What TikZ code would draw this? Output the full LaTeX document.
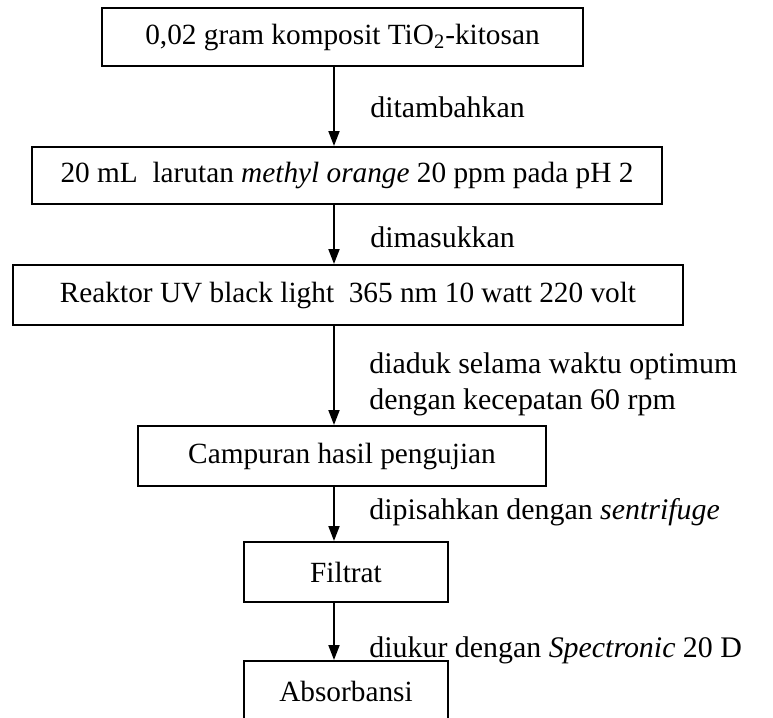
\documentclass[tikz,border=0pt]{standalone}
\usepackage{fontspec}
\setmainfont{Liberation Serif}
\usetikzlibrary{arrows.meta}
\begin{document}
\begin{tikzpicture}[x=0.5pt,y=-0.5pt,
  box/.style={draw, line width=1pt, inner sep=0pt, font=\fontsize{14.65}{17}\selectfont, anchor=center},
  lbl/.style={anchor=base west, inner sep=0pt, font=\fontsize{14.95}{18}\selectfont},
  lbltwo/.style={anchor=west, inner sep=0pt, font=\fontsize{14.95}{18}\selectfont, align=left},
  flow/.style={line width=1pt, -{Triangle[length=7.5pt,width=5.5pt]}}]
\useasboundingbox[fill=white] (0,0) rectangle (773,718);
\node[box, minimum width=240.5pt, minimum height=29pt] (b1) at (342.5,37) {0,02 gram komposit TiO\textsubscript{2}-kitosan};
\node[box, minimum width=315pt, minimum height=28.5pt] (b2) at (347,175.5) {20 mL\ \ larutan \textit{methyl orange} 20 ppm pada pH 2};
\node[box, minimum width=335pt, minimum height=30pt] (b3) at (348,295) {Reaktor UV black light\ \ 365 nm 10 watt 220 volt};
\node[box, minimum width=204pt, minimum height=30pt] (b4) at (342,456) {Campuran hasil pengujian};
\node[box, minimum width=102pt, minimum height=30pt] (b5) at (346,572) {Filtrat};
\node[box, minimum width=102pt, minimum height=30pt] (b6) at (346,691) {Absorbansi};
\coordinate (ax) at (334,0);
\draw[flow] (b1.south -| ax) -- (b2.north -| ax);
\draw[flow] (b2.south -| ax) -- (b3.north -| ax);
\draw[flow] (b3.south -| ax) -- (b4.north -| ax);
\draw[flow] (b4.south -| ax) -- (b5.north -| ax);
\draw[flow] (b5.south -| ax) -- (b6.north -| ax);
\node[lbl] (l1) at (370,117) {ditambahkan};
\node[lbl] (l2) at (370,247) {dimasukkan};
\node[lbltwo] (l3) at (369,384.5) {diaduk selama waktu optimum\\dengan kecepatan 60 rpm};
\node[lbl] (l4) at (369,519) {dipisahkan dengan \textit{sentrifuge}};
\node[lbl] (l5) at (369,657) {diukur dengan \textit{Spectronic} 20 D};
\end{tikzpicture}
\end{document}
